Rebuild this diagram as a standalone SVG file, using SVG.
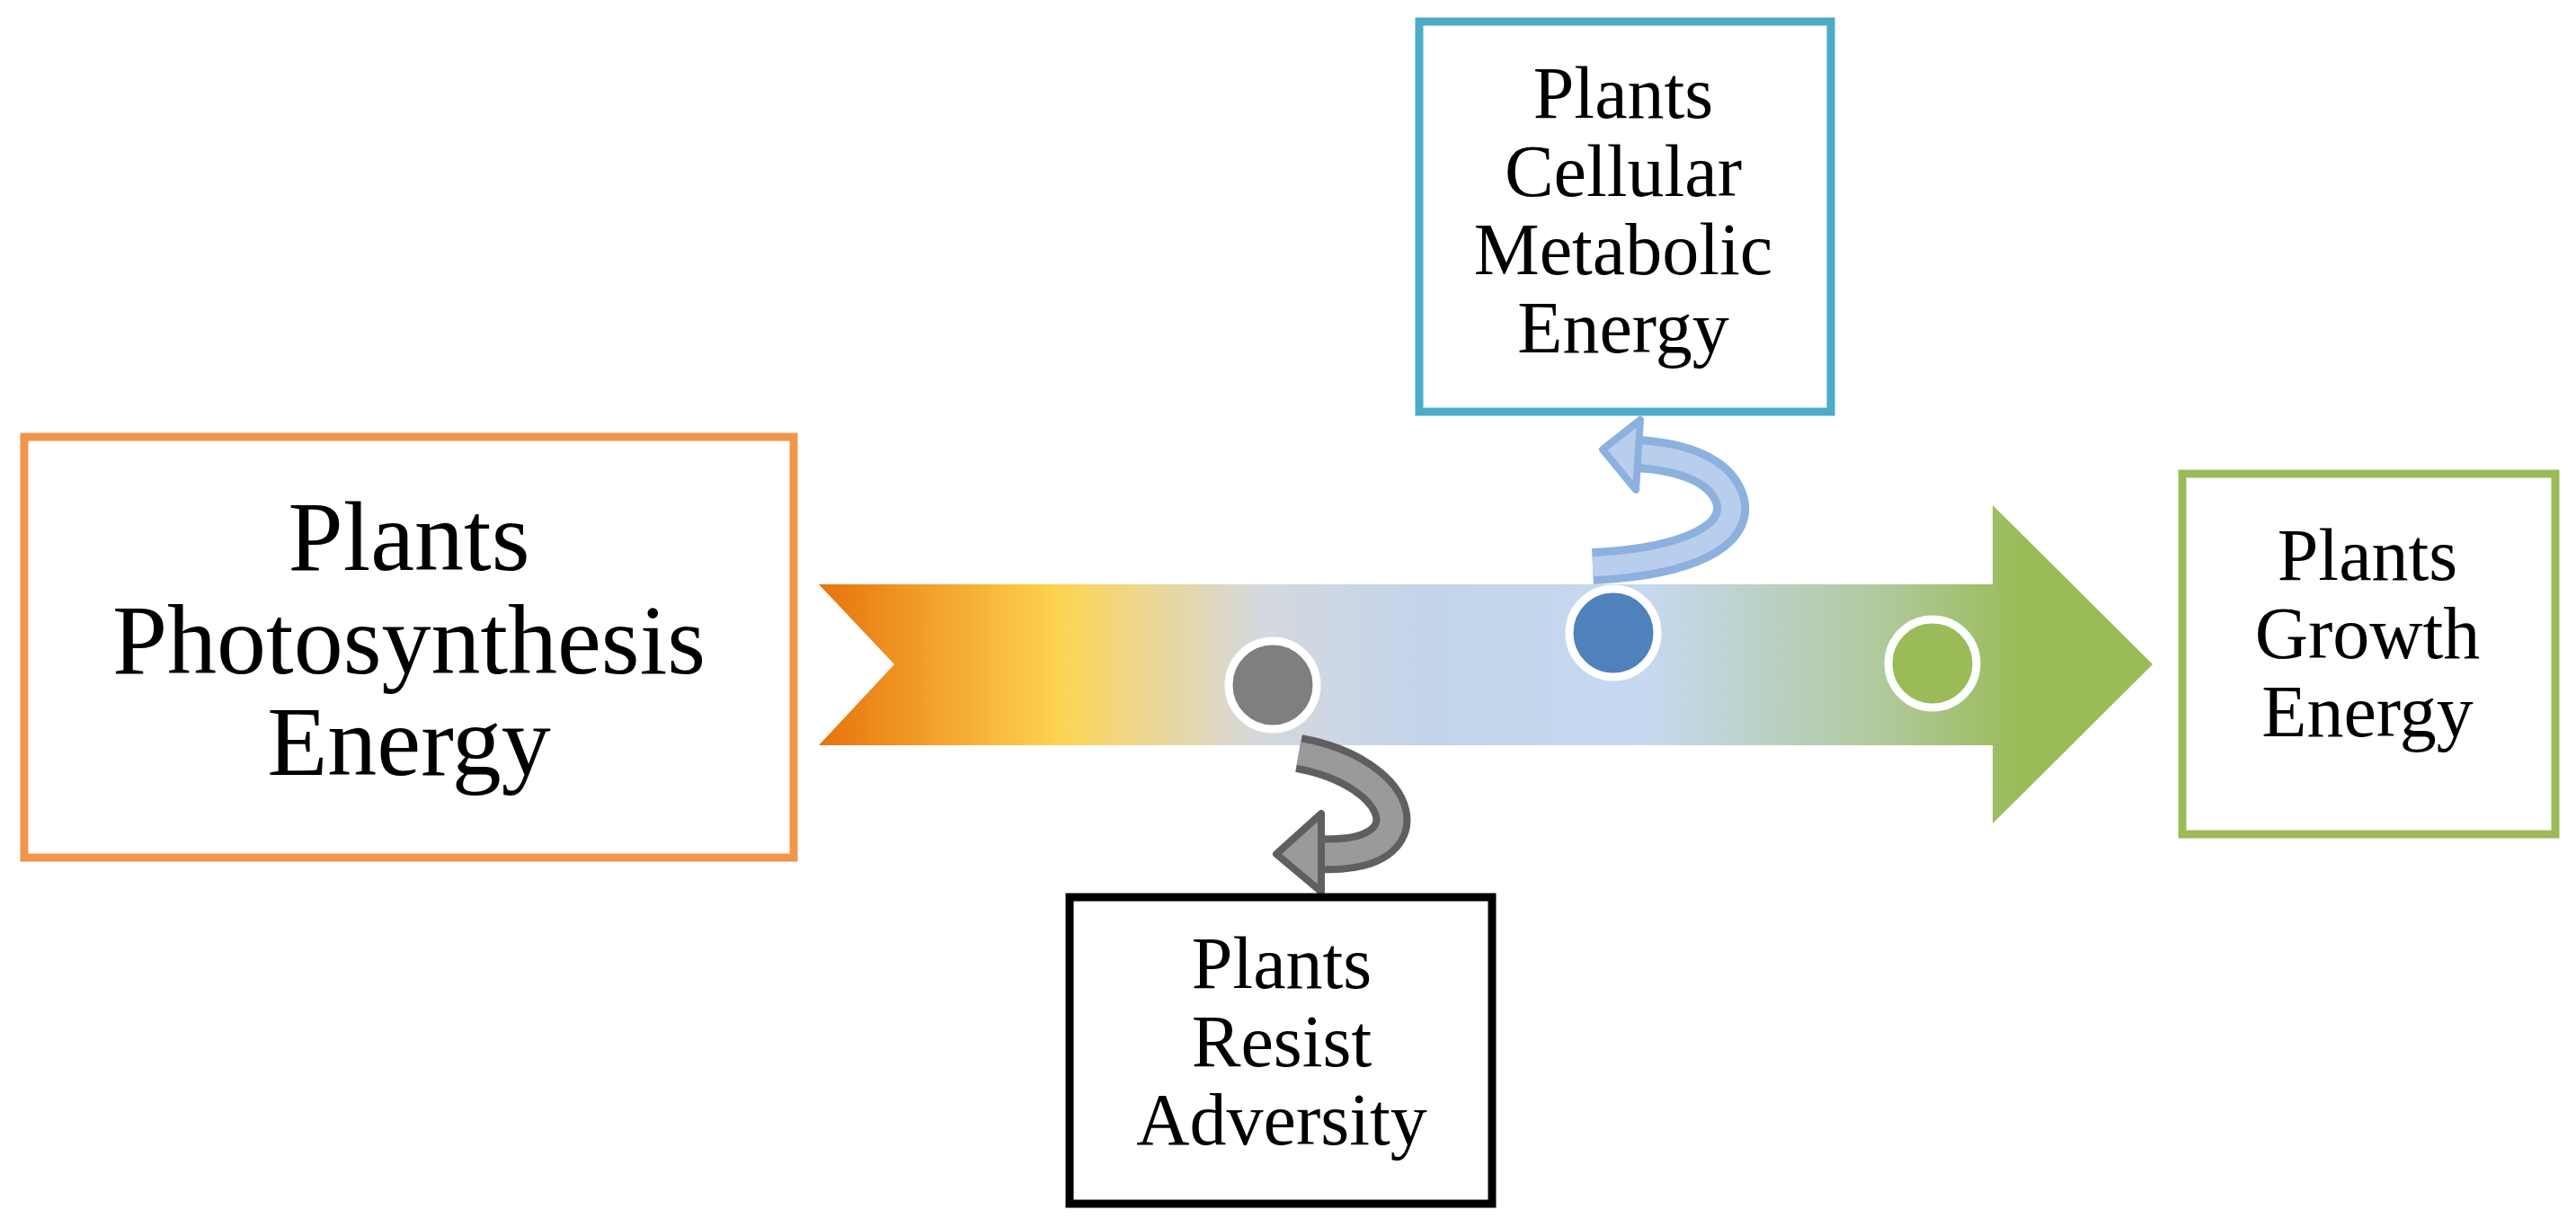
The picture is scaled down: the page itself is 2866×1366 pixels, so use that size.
<svg xmlns="http://www.w3.org/2000/svg" width="2866" height="1366" viewBox="0 0 2866 1366">
<style>
text{font-family:"Liberation Serif","Times New Roman",serif;fill:#000;text-anchor:middle}
.box{fill:#fff;stroke-width:9}
.big{font-size:110px}
.sm{font-size:82px}
</style>
<defs>
<linearGradient id="band" gradientUnits="userSpaceOnUse" x1="911" y1="0" x2="2395" y2="0">
<stop offset="0" stop-color="#E8730C"/>
<stop offset="0.18" stop-color="#FDD451"/>
<stop offset="0.22" stop-color="#F3D67A"/>
<stop offset="0.33" stop-color="#D5D8DE"/>
<stop offset="0.45" stop-color="#C3D4EA"/>
<stop offset="0.62" stop-color="#C6D9F0"/>
<stop offset="0.8" stop-color="#AFC99A"/>
<stop offset="0.9" stop-color="#9BBB59"/>
<stop offset="1" stop-color="#9BBB59"/>
</linearGradient>
</defs>
<g id="flow">
<polygon points="911,650 2217,650 2217,562 2395,739 2217,916 2217,829 911,829 995,739" fill="url(#band)"/>
</g>
<g id="connectors">
<path d="M1445,838 C1565,860 1590,955 1470,950" fill="none" stroke="#5F5F5F" stroke-width="42"/>
<path d="M1445,838 C1565,860 1590,955 1470,950" fill="none" stroke="#9A9A9A" stroke-width="26"/>
<polygon points="1420,950 1470,905 1470,992" fill="#9A9A9A" stroke="#5F5F5F" stroke-width="8" stroke-linejoin="round"/>
<path d="M1772,630 C1880,625 1935,595 1925,557 C1915,522 1870,508 1822,505" fill="none" stroke="#8DB1DE" stroke-width="40"/>
<path d="M1772,630 C1880,625 1935,595 1925,557 C1915,522 1870,508 1822,505" fill="none" stroke="#B9CEEC" stroke-width="22"/>
<polygon points="1783,500 1825,467 1820,545" fill="#B9CEEC" stroke="#8DB1DE" stroke-width="8" stroke-linejoin="round"/>
</g>
<g id="dot-gray"><circle cx="1416" cy="762" r="49" fill="#7F7F7F" stroke="#fff" stroke-width="9"/></g>
<g id="dot-blue"><circle cx="1795" cy="704" r="49" fill="#4F81BD" stroke="#fff" stroke-width="9"/></g>
<g id="dot-green"><circle cx="2150" cy="738" r="49" fill="#9BBB59" stroke="#fff" stroke-width="9"/></g>
<g id="photosynthesis">
<rect class="box" x="27" y="486" width="856" height="468" stroke="#F0964B"/>
<text class="big" x="455" y="634">Plants</text>
<text class="big" x="455" y="749">Photosynthesis</text>
<text class="big" x="455" y="862">Energy</text>
</g>
<g id="cellular">
<rect class="box" x="1579" y="24" width="458" height="434" stroke="#4BACC6"/>
<text class="sm" x="1806" y="131">Plants</text>
<text class="sm" x="1806" y="218">Cellular</text>
<text class="sm" x="1806" y="305">Metabolic</text>
<text class="sm" x="1806" y="392">Energy</text>
</g>
<g id="growth">
<rect class="box" x="2428" y="527" width="415" height="401" stroke="#9BBB59"/>
<text class="sm" x="2634" y="645">Plants</text>
<text class="sm" x="2634" y="732">Growth</text>
<text class="sm" x="2634" y="819">Energy</text>
</g>
<g id="resist">
<rect class="box" x="1190" y="998" width="470" height="341" stroke="#000"/>
<text class="sm" x="1426" y="1099">Plants</text>
<text class="sm" x="1426" y="1186">Resist</text>
<text class="sm" x="1426" y="1273">Adversity</text>
</g>
</svg>
